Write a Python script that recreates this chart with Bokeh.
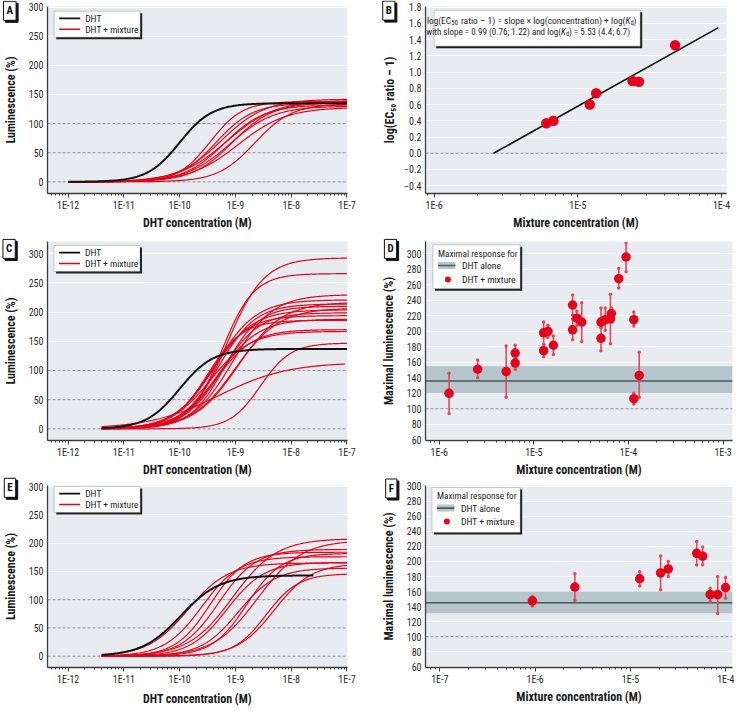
import numpy as np
from bokeh.plotting import figure
from bokeh.layouts import column, row
from bokeh.models import (Range1d, FixedTicker, CustomJSTickFormatter, Span,
                          BoxAnnotation, Label)
from bokeh.embed import file_html
from bokeh.resources import INLINE

# ---------------- data ----------------
# Panels A, C, E: fitted concentration-response curves (Hill model parameters)
A_DHT_TOP, A_DHT_LOGEC50, A_DHT_HILL = [135], [-10.0], [1.5]
A_DHT_START, A_DHT_END = 1e-12, 1e-7
A_MIX_TOP = [138, 135, 142, 132, 140, 130, 136, 128, 134]
A_MIX_LOGEC50 = [-9.45, -9.35, -9.25, -9.20, -9.15, -9.10, -9.05, -8.95, -8.65]
A_MIX_HILL = [1.5, 1.3, 1.1, 1.2, 1.0, 1.1, 1.2, 1.0, 1.3]
A_MIX_START, A_MIX_END = 1e-12, 1e-7

C_DHT_TOP, C_DHT_LOGEC50, C_DHT_HILL = [137], [-10.0], [1.45]
C_DHT_START, C_DHT_END = 4e-12, 1e-7
C_MIX_TOP = [293, 266, 230, 221, 217, 214, 210, 207, 204, 199, 194, 188, 186, 170, 167, 147, 114]
C_MIX_LOGEC50 = [-9.15, -9.25, -9.05, -9.35, -8.95, -9.30, -9.20, -9.00, -9.40, -9.25,
                 -9.45, -9.30, -9.50, -9.35, -9.45, -8.55, -9.30]
C_MIX_HILL = [1.3, 1.5, 1.2, 1.2, 1.1, 1.3, 1.4, 1.1, 1.2, 1.3, 1.3, 1.2, 1.4, 1.3, 1.2, 1.6, 0.7]
C_MIX_START = 4e-12
C_MIX_END = [1e-7] * 16 + [9.3e-8]

E_DHT_TOP, E_DHT_LOGEC50, E_DHT_HILL = [143], [-9.98], [1.25]
E_DHT_START, E_DHT_END = 4e-12, 2.5e-8
E_MIX_TOP = [165, 176, 184, 189, 166, 208, 156, 182, 205, 146, 164]
E_MIX_LOGEC50 = [-9.85, -9.60, -9.45, -9.30, -9.15, -9.05, -8.95, -8.80, -8.60, -8.45, -8.30]
E_MIX_HILL = [1.2, 1.3, 1.4, 1.3, 1.3, 1.1, 1.3, 1.4, 1.1, 1.5, 1.3]
E_MIX_START, E_MIX_END = 4e-12, 1e-7

# Panel B: EC50 shift vs mixture concentration
B_CONC = [6.03e-6, 6.76e-6, 1.21e-5, 1.34e-5, 2.40e-5, 2.66e-5, 4.75e-5]
B_LOGRATIO = [0.37, 0.40, 0.60, 0.74, 0.89, 0.88, 1.33]
B_SLOPE, B_LOGKD = 0.99, 5.53
B_FIT_CONC = [2.59e-6, 9.5e-5]

# Panel D: maximal responses (mean, lower, upper)
D_CONC = [1.27e-6, 2.55e-6, 5.1e-6, 6.35e-6, 6.35e-6, 1.27e-5, 1.27e-5, 1.41e-5, 1.61e-5,
          2.57e-5, 2.57e-5, 2.85e-5, 3.21e-5, 5.13e-5, 5.13e-5, 5.69e-5, 6.45e-5, 6.6e-5,
          7.9e-5, 9.44e-5, 1.14e-4, 1.14e-4, 1.30e-4]
D_MAX = [120, 151, 148, 172, 159, 175, 198, 200, 182, 234, 202, 217, 212, 212, 191, 215,
         216, 223, 268, 296, 215, 113, 143]
D_LOW = [94, 140, 115, 165, 151, 167, 183, 192, 170, 221, 189, 208, 187, 205, 175, 201,
         184, 216, 256, 277, 207, 106, 115]
D_HIGH = [146, 163, 181, 182, 167, 183, 212, 208, 194, 247, 216, 226, 237, 230, 205, 230,
          248, 230, 281, 314, 225, 120, 173]
D_DHT_MAX, D_DHT_LOW, D_DHT_HIGH = 136, 120, 155

# Panel F
F_CONC = [9.35e-7, 2.61e-6, 1.25e-5, 2.07e-5, 2.49e-5, 4.95e-5, 5.72e-5, 6.86e-5, 8.22e-5, 9.93e-5]
F_MAX = [147.7, 166, 177, 184.7, 190, 210.8, 207, 156, 156, 165.3]
F_LOW = [140.9, 148.4, 167.4, 162.4, 180, 195.2, 195.6, 146.8, 130.8, 151]
F_HIGH = [153.5, 183.8, 186.3, 207.4, 199.8, 226.4, 219.2, 164.4, 180, 178.7]
F_DHT_MAX, F_DHT_LOW, F_DHT_HIGH = 145, 131, 160

# tick labels
LUM_TICKS = [0, 50, 100, 150, 200, 250, 300]
MAX_TICKS = [60, 80, 100, 120, 140, 160, 180, 200, 220, 240, 260, 280, 300]
B_TICKS = [-0.4, -0.2, 0.0, 0.2, 0.4, 0.6, 0.8, 1.0, 1.2, 1.4, 1.6, 1.8]
PANEL_TAGS = ["A", "B", "C", "D", "E", "F"]

# ---------------- style ----------------
FONT = "Roboto Condensed, DejaVu Sans Condensed, Liberation Sans Narrow, Liberation Sans"
RED = "#e3051b"
ERR = "#e24a58"
BG = "#e8ecf0"
AXIS = "#3c3c3c"
DASH = "#8c9297"
BAND = "#b6c4cc"
BANDLINE = "#4b585e"


def hill(x, top, logec50, h):
    return top / (1.0 + 10.0 ** (h * (logec50 - np.log10(x))))


def curve_set(tops, ecs, hills, start, ends):
    xs_all, ys_all = [], []
    if not isinstance(ends, list):
        ends = [ends] * len(tops)
    for t, e, h, end in zip(tops, ecs, hills, ends):
        xs = np.logspace(np.log10(start), np.log10(end), 260)
        xs_all.append(xs.tolist())
        ys_all.append(hill(xs, t, e, h).tolist())
    return xs_all, ys_all


def base(w, h, bl, br, bt, bb, xlim, ylim, xdec, xlabel, ylabel, yticks, gridticks, dashed,
         yfmt=None, ylab_so=8, xlab_so=2):
    p = figure(width=w, height=h, x_axis_type="log",
               x_range=Range1d(*xlim), y_range=Range1d(*ylim),
               output_backend="svg", toolbar_location=None,
               min_border_left=bl, min_border_right=br, min_border_top=bt, min_border_bottom=bb,
               background_fill_color=BG, border_fill_color="white", outline_line_color=None)
    major = [10.0 ** d for d in xdec]
    lo, hi = int(np.floor(np.log10(xlim[0]))), int(np.ceil(np.log10(xlim[1])))
    minor = [m * 10.0 ** d for d in range(lo, hi) for m in range(2, 10)
             if xlim[0] <= m * 10.0 ** d <= xlim[1]]
    p.xaxis.ticker = FixedTicker(ticks=major, minor_ticks=minor)
    p.xaxis.formatter = CustomJSTickFormatter(code="return '1E' + Math.round(Math.log10(tick));")
    p.yaxis.ticker = FixedTicker(ticks=yticks)
    if yfmt is not None:
        p.yaxis.formatter = yfmt
    p.xgrid.visible = False
    p.ygrid.ticker = FixedTicker(ticks=gridticks)
    p.ygrid.grid_line_color = "white"
    p.ygrid.grid_line_width = 1
    for v in dashed:
        p.add_layout(Span(location=v, dimension="width", line_color=DASH, line_dash="3 2",
                          line_width=1, level="underlay"))
    for ax in (p.xaxis, p.yaxis):
        ax.axis_line_color = AXIS
        ax.axis_line_width = 1.3
        ax.major_label_text_font = FONT
        ax.major_label_text_font_size = "10px"
        ax.major_label_text_color = "#2a2a2a"
        ax.axis_label_text_font = FONT
        ax.axis_label_text_font_style = "bold"
        ax.axis_label_text_font_size = "12px"
        ax.axis_label_text_color = "#1a1a1a"
    p.xaxis.major_tick_line_color = AXIS
    p.xaxis.minor_tick_line_color = AXIS
    p.xaxis.major_tick_out = 4
    p.xaxis.major_tick_in = 0
    p.xaxis.minor_tick_out = 2
    p.xaxis.minor_tick_in = 0
    p.xaxis.major_label_standoff = 2
    p.xaxis.axis_label_standoff = xlab_so
    p.xaxis.axis_label = xlabel
    p.yaxis.major_tick_line_color = None
    p.yaxis.minor_tick_line_color = None
    p.yaxis.major_tick_out = 0
    p.yaxis.minor_tick_out = 0
    p.yaxis.major_label_standoff = 4
    p.yaxis.axis_label_standoff = ylab_so
    p.yaxis.axis_label = ylabel
    fh = h - bt - bb
    return p, fh


def sbox(p, fh, l, t, w, h, fill, line=None, lw=1.0, radius=None, level="annotation"):
    kw = dict(left=l, right=l + w, top=fh - t, bottom=fh - t - h,
              left_units="screen", right_units="screen", top_units="screen", bottom_units="screen",
              fill_color=fill, fill_alpha=1.0, line_color=line, line_width=lw, level=level)
    if radius is not None:
        kw["border_radius"] = radius
    p.add_layout(BoxAnnotation(**kw))


def stext(p, fh, x, t, text, size="9.5px", style="normal", align="left", color="#1e1e1e"):
    p.add_layout(Label(x=x, y=fh - t, x_units="screen", y_units="screen", text=text,
                       text_font=FONT, text_font_size=size, text_font_style=style,
                       text_align=align, text_baseline="middle", text_color=color))


def curve_legend(p, fh, l, t):
    sbox(p, fh, l + 2, t + 2, 86, 26, "#222222")
    sbox(p, fh, l, t, 86, 26, "white", "#333333", 0.8)
    sbox(p, fh, l + 5, t + 6.2, 21, 1.9, "#111111")
    sbox(p, fh, l + 5, t + 17.3, 21, 1.5, RED)
    stext(p, fh, l + 31, t + 7.2, "DHT")
    stext(p, fh, l + 31, t + 18.2, "DHT + mixture")


def max_legend(p, fh, l, t, w, h, rows):
    sbox(p, fh, l + 2, t + 2, w, h, "#222222")
    sbox(p, fh, l, t, w, h, "white", "#333333", 0.8)
    stext(p, fh, l + 5, t + rows[0], "Maximal response for", size="9.3px")
    sbox(p, fh, l + 5, t + rows[1] - 3.5, 17.5, 7, BAND)
    sbox(p, fh, l + 5, t + rows[1] - 0.8, 17.5, 1.6, BANDLINE)
    stext(p, fh, l + 29, t + rows[1], "DHT alone", size="9.6px")
    sbox(p, fh, l + 12, t + rows[2] - 3, 6, 6, RED, radius=3)
    stext(p, fh, l + 29, t + rows[2], "DHT + mixture", size="9.6px")


W = 367
H1, H2, H3 = 235, 244, 229
LUM_LABEL = "Luminescence (%)"
MAX_LABEL = "Maximal luminescence (%)"
DHT_X = "DHT concentration (M)"
MIX_X = "Mixture concentration (M)"
CURVE_XLIM = (10 ** -12.37, 10 ** -6.99)

# ---------------- Panel A ----------------
pA, fhA = base(W, H1, 39, 20, 6, 42, CURVE_XLIM, (-20, 301), range(-12, -6), DHT_X, LUM_LABEL,
               LUM_TICKS, [150, 200, 250, 300], [0, 50, 100])
xs, ys = curve_set(A_MIX_TOP, A_MIX_LOGEC50, A_MIX_HILL, A_MIX_START, A_MIX_END)
pA.multi_line(xs, ys, line_color=RED, line_width=1.2)
xs, ys = curve_set(A_DHT_TOP, A_DHT_LOGEC50, A_DHT_HILL, A_DHT_START, A_DHT_END)
pA.multi_line(xs, ys, line_color="#111111", line_width=2)
curve_legend(pA, fhA, 6.7, 4.7)

# ---------------- Panel B ----------------
bfmt = CustomJSTickFormatter(code="var s = Math.abs(tick).toFixed(1); return (tick < -1e-9 ? '\u2212' : '') + s;")
pB, fhB = base(W, H1, 58, 8, 6, 41, (10 ** -6.06, 10 ** -3.966), (-0.496, 1.808), range(-6, -3),
               MIX_X, "log(EC\u2085\u2080 ratio \u2013 1)", B_TICKS,
               [t for t in B_TICKS if abs(t) > 1e-9], [0.0], yfmt=bfmt, ylab_so=4)
fit_x = np.array(B_FIT_CONC)
pB.line(fit_x, B_SLOPE * np.log10(fit_x) + B_LOGKD, line_color="#111111", line_width=1.6)
pB.scatter(B_CONC, B_LOGRATIO, size=10.5, color=RED, line_color=None)
sbox(pB, fhB, 8.7 + 2, 4.7 + 2, 206, 36, "#222222")
sbox(pB, fhB, 8.7, 4.7, 206, 36, "white", "#333333", 0.8)
r1, r2 = 14.7, 26.3
SS = "6.8px"
stext(pB, fhB, 25.4, r1, "log(EC", size="9.2px", align="right")
stext(pB, fhB, 25.8, r1 + 2.5, "50", size=SS)
stext(pB, fhB, 200, r1, "ratio \u2013 1) = slope \u00d7 log(concentration) + log(", size="9.45px", align="right")
stext(pB, fhB, 200, r1, "K", size="9.2px", style="italic")
stext(pB, fhB, 205, r1 + 2.5, "d", size=SS)
stext(pB, fhB, 208, r1, ")", size="9.2px")
stext(pB, fhB, 135.5, r2, "with slope = 0.99 (0.76; 1.22) and log(", size="9px", align="right")
stext(pB, fhB, 135.5, r2, "K", size="9px", style="italic")
stext(pB, fhB, 140.5, r2 + 2.5, "d", size=SS)
stext(pB, fhB, 143.5, r2, ") = 5.53 (4.4; 6.7)", size="9px")

# ---------------- Panel C ----------------
pC, fhC = base(W, H2, 39, 20, 6, 38, CURVE_XLIM, (-20, 321), range(-12, -6), DHT_X, LUM_LABEL,
               LUM_TICKS, [150, 200, 250, 300], [0, 50, 100])
xs, ys = curve_set(C_MIX_TOP, C_MIX_LOGEC50, C_MIX_HILL, C_MIX_START, C_MIX_END)
pC.multi_line(xs, ys, line_color=RED, line_width=1.2)
xs, ys = curve_set(C_DHT_TOP, C_DHT_LOGEC50, C_DHT_HILL, C_DHT_START, C_DHT_END)
pC.multi_line(xs, ys, line_color="#111111", line_width=2)
curve_legend(pC, fhC, 6.5, 5)

# ---------------- Panel D ----------------
pD, fhD = base(W, H2, 58, 2, 6, 38, (10 ** -6.145, 10 ** -2.90), (59, 316), range(-6, -2), MIX_X,
               MAX_LABEL, MAX_TICKS, [t for t in MAX_TICKS if t != 100], [100], ylab_so=8)
pD.add_layout(BoxAnnotation(bottom=D_DHT_LOW, top=D_DHT_HIGH, fill_color=BAND, fill_alpha=1.0,
                            line_color=None, level="underlay"))
pD.add_layout(Span(location=D_DHT_MAX, dimension="width", line_color=BANDLINE, line_width=1.5,
                   level="underlay"))
pD.segment(D_CONC, D_LOW, D_CONC, D_HIGH, line_color=ERR, line_width=1.6)
pD.scatter(D_CONC + D_CONC, D_LOW + D_HIGH, size=3.5, color=ERR, line_color=None)
pD.scatter(D_CONC, D_MAX, size=9.5, color=RED, line_color=None)
max_legend(pD, fhD, 7.4, 4.3, 87.3, 44, (8.7, 20.7, 34.7))

# ---------------- Panel E ----------------
pE, fhE = base(W, H3, 39, 20, 6, 36, CURVE_XLIM, (-20, 302), range(-12, -6), DHT_X, LUM_LABEL,
               LUM_TICKS, [150, 200, 250, 300], [0, 50, 100], xlab_so=4)
xs, ys = curve_set(E_MIX_TOP, E_MIX_LOGEC50, E_MIX_HILL, E_MIX_START, E_MIX_END)
pE.multi_line(xs, ys, line_color=RED, line_width=1.2)
xs, ys = curve_set(E_DHT_TOP, E_DHT_LOGEC50, E_DHT_HILL, E_DHT_START, E_DHT_END)
pE.multi_line(xs, ys, line_color="#111111", line_width=2)
curve_legend(pE, fhE, 6.7, 6)

# ---------------- Panel F ----------------
pF, fhF = base(W, H3, 58, 2, 6, 37, (10 ** -7.15, 10 ** -3.93), (59, 301), range(-7, -3), MIX_X,
               MAX_LABEL, MAX_TICKS, [t for t in MAX_TICKS if t != 100], [100], ylab_so=8)
pF.add_layout(BoxAnnotation(bottom=F_DHT_LOW, top=F_DHT_HIGH, fill_color=BAND, fill_alpha=1.0,
                            line_color=None, level="underlay"))
pF.add_layout(Span(location=F_DHT_MAX, dimension="width", line_color=BANDLINE, line_width=1.5,
                   level="underlay"))
pF.segment(F_CONC, F_LOW, F_CONC, F_HIGH, line_color=ERR, line_width=1.6)
pF.scatter(F_CONC + F_CONC, F_LOW + F_HIGH, size=3.5, color=ERR, line_color=None)
pF.scatter(F_CONC, F_MAX, size=9.5, color=RED, line_color=None)
max_legend(pF, fhF, 6.4, 6, 88.3, 45, (7.6, 20.6, 34))

# ---------------- transparent overlay with the panel letters ----------------
TOTAL_W, TOTAL_H = 2 * W, H1 + H2 + H3
ov = figure(width=TOTAL_W, height=TOTAL_H, x_range=Range1d(0, TOTAL_W), y_range=Range1d(TOTAL_H, 0),
            output_backend="svg", toolbar_location=None, x_axis_location=None, y_axis_location=None,
            min_border=0, border_fill_color=None, background_fill_color=None, outline_line_color=None)
ov.grid.visible = False
ov.margin = (-TOTAL_H, 0, 0, 0)
tag_pos = [(9.3, 10.3), (388.3, 10.1), (8.6, 248.4), (390.0, 248.4), (9.5, 487.3), (390.8, 488.0)]
for letter, (tx, ty) in zip(PANEL_TAGS, tag_pos):
    for dx, bgc in ((2, "#111111"), (0, "white")):
        ov.add_layout(Label(x=tx + dx, y=ty + dx, text=letter,
                            text_font=FONT, text_font_size="11px", text_font_style="bold",
                            text_align="center", text_baseline="middle", text_color="#111111",
                            background_fill_color=bgc, border_line_color="#111111",
                            border_line_width=1, padding=3))

layout = column(row(pA, pB), row(pC, pD), row(pE, pF), ov)
with open("out.html", "w") as f:
    f.write(file_html(layout, INLINE, "Luminescence"))
